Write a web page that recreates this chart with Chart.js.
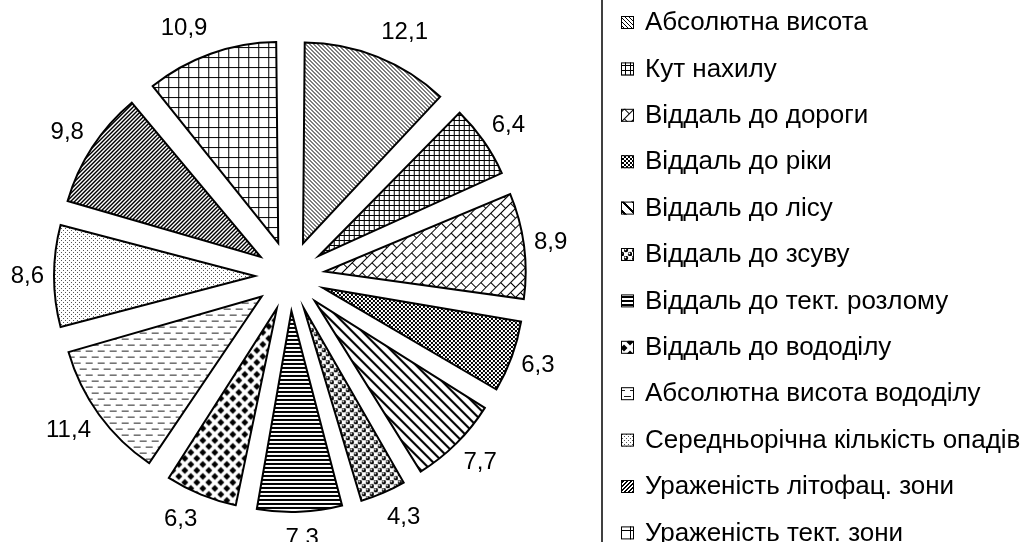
<!DOCTYPE html>
<html>
<head>
<meta charset="utf-8">
<script src="https://cdn.jsdelivr.net/npm/chart.js@4.4.1/dist/chart.umd.min.js"></script>
<style>
    html, body { margin: 0; padding: 0; background: #fff; overflow: hidden; }
    canvas { display: block; }
</style>
</head>
<body>
<canvas id="chartFaktory" width="1021" height="542"></canvas>
<script>
// Фактори та їх вагомість, %
const faktory = [
    'Абсолютна висота',
    'Кут нахилу',
    'Віддаль до дороги',
    'Віддаль до ріки',
    'Віддаль до лісу',
    'Віддаль до зсуву',
    'Віддаль до тект. розлому',
    'Віддаль до вододілу',
    'Абсолютна висота вододілу',
    'Середньорічна кількість опадів',
    'Ураженість літофац. зони',
    'Ураженість тект. зони'
];
const vahy = [12.1, 6.4, 8.9, 6.3, 7.7, 4.3, 7.3, 6.3, 11.4, 8.6, 9.8, 10.9];
const pidpysy = ['12,1', '6,4', '8,9', '6,3', '7,7', '4,3', '7,3', '6,3', '11,4', '8,6', '9,8', '10,9'];

const FONT = '"Liberation Sans", Arial, sans-serif';

// --- штрихування (чорно-білі візерунки як в Excel) ---
function tile(w, h, draw) {
    const c = document.createElement('canvas');
    c.width = w;
    c.height = h;
    const g = c.getContext('2d');
    g.fillStyle = '#fff';
    g.fillRect(0, 0, w, h);
    g.fillStyle = '#000';
    g.strokeStyle = '#000';
    draw(g, w, h);
    return c;
}

const canvas = document.getElementById('chartFaktory');
const ctx = canvas.getContext('2d');

function pattern(c, angle) {
    const p = ctx.createPattern(c, 'repeat');
    if (angle) p.setTransform(new DOMMatrix().rotate(angle));
    return p;
}

function romb(g, x, y, s) {
    g.beginPath();
    g.moveTo(x, y - s); g.lineTo(x + s, y); g.lineTo(x, y + s); g.lineTo(x - s, y);
    g.closePath();
    g.fill();
}

const vizerunky = [
    // тонкі діагоналі \
    pattern(tile(4, 4, g => { for (let i = 0; i < 4; i++) g.fillRect(i, i, 1, 1); })),
    // дрібна сітка
    pattern(tile(5, 5, g => { g.fillRect(0, 0, 5, 1); g.fillRect(0, 0, 1, 5); })),
    // діагональна цегла
    pattern(tile(14, 14, g => {
        g.fillRect(0, 0, 14, 1); g.fillRect(0, 7, 14, 1);
        g.fillRect(0, 0, 1, 7); g.fillRect(7, 7, 1, 7);
    }), -45),
    // темна шахівниця
    pattern(tile(4, 4, g => { g.fillRect(0, 0, 2, 2); g.fillRect(2, 2, 2, 2); })),
    // широкі діагоналі \
    pattern(tile(10, 10, g => {
        for (let i = 0; i < 10; i++) for (let k = 0; k < 3; k++) g.fillRect((i + k) % 10, i, 1, 1);
    })),
    // кульки
    pattern(tile(8, 8, g => {
        [[2, 2], [6, 6]].forEach(([x, y]) => {
            g.beginPath(); g.arc(x, y, 2.2, 0, Math.PI * 2); g.fillStyle = '#000'; g.fill();
            g.beginPath(); g.arc(x - 0.6, y - 0.6, 0.9, 0, Math.PI * 2); g.fillStyle = '#fff'; g.fill();
        });
    })),
    // горизонтальні лінії
    pattern(tile(1, 4, g => { g.fillRect(0, 0, 1, 2); })),
    // ромби
    pattern(tile(12, 12, g => {
        [[6, 6], [0, 0], [12, 0], [0, 12], [12, 12]].forEach(([x, y]) => romb(g, x, y, 3.5));
    })),
    // штрихи
    pattern(tile(12, 12, g => {
        g.fillStyle = '#222';
        g.fillRect(0, 0, 7, 1);
        g.fillRect(6, 6, 6, 1); g.fillRect(0, 6, 1, 1);
    })),
    // крапки
    pattern(tile(4, 4, g => { g.fillStyle = '#555'; g.fillRect(0, 0, 1, 1); g.fillRect(2, 2, 1, 1); })),
    // густі діагоналі /
    pattern(tile(4, 4, g => { for (let i = 0; i < 4; i++) { g.fillRect(3 - i, i, 1, 1); g.fillRect((4 - i) % 4, i, 1, 1); } })),
    // велика сітка
    pattern(tile(10, 10, g => { g.fillRect(0, 0, 10, 1); g.fillRect(0, 0, 1, 10); }))
];

// однаковий радіус усіх секторів при винесенні (offset)
const rivnyiRadius = {
    id: 'rivnyiRadius',
    beforeDatasetDraw(chart, args) {
        const meta = args.meta;
        const R = meta.controller.outerRadius;
        meta.data.forEach(arc => {
            const shift = (arc.options.offset || 0) / 4;
            const fix = 1 - Math.sin(Math.min(Math.PI, arc.circumference));
            arc.outerRadius = R - shift * fix;
        });
    }
};

// підписи значень (за краєм сектора, як "біля зовнішнього краю")
const pidpysyZnachen = {
    id: 'pidpysyZnachen',
    afterDatasetsDraw(chart) {
        const meta = chart.getDatasetMeta(0);
        const c = chart.ctx;
        const size = 24;
        c.save();
        c.font = size + 'px ' + FONT;
        c.fillStyle = '#000';
        c.textAlign = 'center';
        c.textBaseline = 'middle';
        meta.data.forEach((arc, i) => {
            const mid = (arc.startAngle + arc.endAngle) / 2;
            const r = meta.controller.outerRadius + arc.options.offset / 4 + 10;
            const sin = Math.cos(mid), cos = -Math.sin(mid);
            const w = c.measureText(pidpysy[i]).width;
            const dx = w / 2 * Math.max(-1, Math.min(1, 3 * sin));
            const dy = -0.7 * size * cos;
            c.fillText(pidpysy[i], arc.x + sin * r + dx, arc.y - cos * r + dy);
        });
        c.restore();
    }
};

// легенда праворуч
const lehenda = {
    id: 'lehenda',
    afterDraw(chart) {
        const c = chart.ctx;
        c.save();
        c.strokeStyle = '#000';
        c.lineWidth = 1.5;
        c.beginPath();
        c.moveTo(602, 0);
        c.lineTo(602, 542);
        c.stroke();
        c.font = '26px ' + FONT;
        c.textBaseline = 'middle';
        faktory.forEach((name, i) => {
            const y = 22 + i * 46.4;
            c.fillStyle = vizerunky[i];
            c.fillRect(621, y - 6, 13, 13);
            c.lineWidth = 1;
            c.strokeRect(621.5, y - 5.5, 12, 12);
            c.fillStyle = '#000';
            c.fillText(name, 645, y + 1);
        });
        c.restore();
    }
};

new Chart(ctx, {
    type: 'pie',
    data: {
        labels: faktory,
        datasets: [{
            data: vahy,
            backgroundColor: vizerunky,
            borderColor: '#000',
            borderWidth: 2,
            borderJoinStyle: 'miter',
            offset: 140,
            hoverOffset: 140,
            radius: 201,
            clip: false
        }]
    },
    options: {
        responsive: false,
        animation: false,
        events: [],
        devicePixelRatio: 1,
        layout: { padding: { left: 0, top: 10, right: 441, bottom: 0 } },
        plugins: {
            legend: { display: false },
            tooltip: { enabled: false }
        }
    },
    plugins: [rivnyiRadius, pidpysyZnachen, lehenda]
});
</script>
</body>
</html>
